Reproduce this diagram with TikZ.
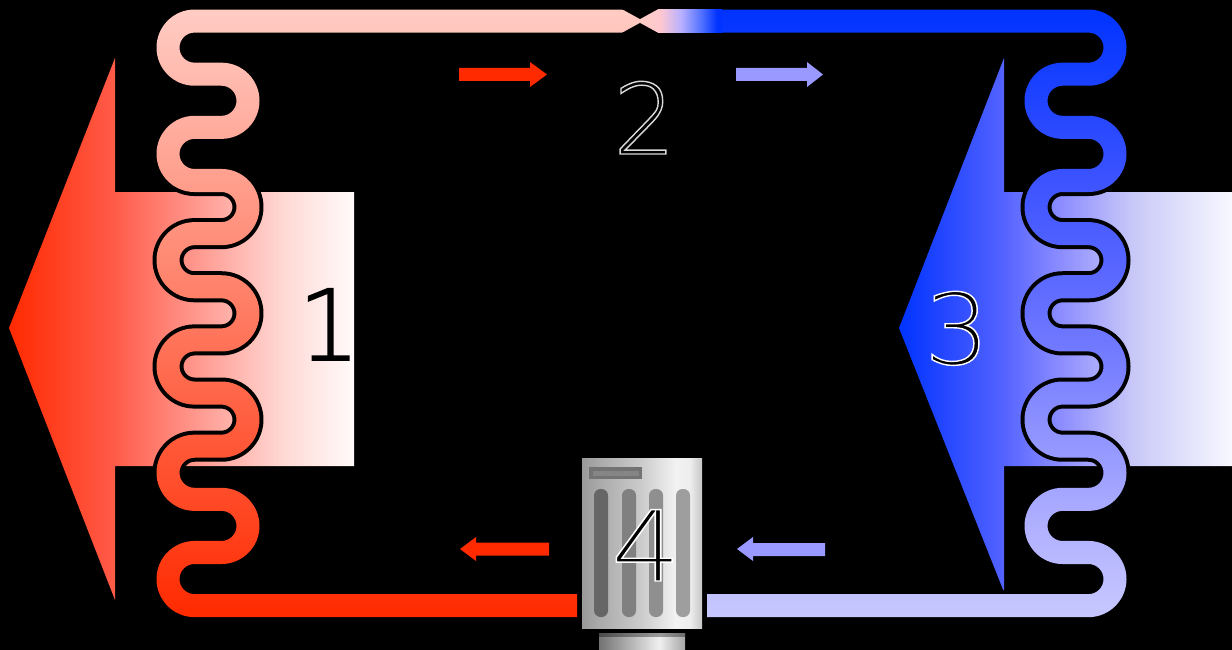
\documentclass[tikz,border=0pt]{standalone}
\usepackage{fontspec}
\newfontfamily\digitfont{DejaVu Sans ExtraLight}
\definecolor{hotA}{HTML}{FF2A00}
\definecolor{hotB}{HTML}{FFCCC4}
\definecolor{coldA}{HTML}{0033FF}
\definecolor{coldB}{HTML}{C8C8FF}
\definecolor{coldArrow}{HTML}{9999FF}
\definecolor{hotM}{HTML}{FF5A48}
\definecolor{hotN}{HTML}{FF9A90}
\definecolor{hotO}{HTML}{FFDAD6}
\definecolor{hotP}{HTML}{FFFAFA}
\definecolor{coldM}{HTML}{5060FF}
\definecolor{coldN}{HTML}{9090FF}
\definecolor{coldO}{HTML}{C8C8F8}
\definecolor{coldP}{HTML}{F8F8FF}
\definecolor{tubeM}{HTML}{4055FF}
\definecolor{tubeN}{HTML}{7078FF}
\definecolor{tubeO}{HTML}{B0B0FF}
\definecolor{valveM}{HTML}{FFC8D0}
\definecolor{valveN}{HTML}{B8B0FF}
\definecolor{valveO}{HTML}{5070FF}
\pgfdeclarehorizontalshading{hotArrowSh}{100bp}{color(0bp)=(hotA); color(25bp)=(hotA); color(40bp)=(hotM); color(52.5bp)=(hotN); color(65bp)=(hotO); color(75bp)=(hotP); color(100bp)=(hotP)}
\pgfdeclarehorizontalshading{coldArrowSh}{100bp}{color(0bp)=(coldA); color(25bp)=(coldA); color(40bp)=(coldM); color(50bp)=(coldN); color(60bp)=(coldO); color(75bp)=(coldP); color(100bp)=(coldP)}
\pgfdeclareverticalshading{coldTubeSh}{100bp}{color(0bp)=(coldB); color(25bp)=(coldB); color(32.5bp)=(tubeO); color(47.5bp)=(tubeN); color(60bp)=(tubeM); color(75bp)=(coldA); color(100bp)=(coldA)}
\pgfdeclarehorizontalshading{thrSh}{100bp}{color(0bp)=(hotB); color(25bp)=(hotB); color(37.5bp)=(valveM); color(50bp)=(valveN); color(62.5bp)=(valveO); color(72bp)=(coldA); color(100bp)=(coldA)}
\pgfdeclarehorizontalshading{bodySh}{100bp}{color(0bp)=(black!40); color(25bp)=(black!40); color(32.5bp)=(black!33); color(50bp)=(black!20); color(64bp)=(black!5); color(70bp)=(black!7); color(75bp)=(black!22); color(100bp)=(black!22)}
\pgfdeclarehorizontalshading{baseSh}{100bp}{color(0bp)=(black!55); color(25bp)=(black!55); color(60bp)=(black!6); color(75bp)=(black!35); color(100bp)=(black!35)}
\newcommand\RO{arc[start angle=-90,end angle=90,radius=38]}
\newcommand\RI{arc[start angle=-90,end angle=90,radius=15]}
\newcommand\LO{arc[start angle=-90,end angle=-270,radius=38]}
\newcommand\LI{arc[start angle=-90,end angle=-270,radius=15]}
\newcommand\ROb{arc[start angle=90,end angle=-90,radius=38]}
\newcommand\RIb{arc[start angle=90,end angle=-90,radius=15]}
\newcommand\LOb{arc[start angle=90,end angle=270,radius=38]}
\newcommand\LIb{arc[start angle=90,end angle=270,radius=15]}
\newcommand\hotTube{(640,9.5) -- (194.5,9.5) \LO
 -- (221.5,85.5) \RI -- (194.5,115.5) \LO
 -- (221.5,191.5) \RI -- (194.5,221.5) \LO
 -- (221.5,297.5) \RI -- (194.5,327.5) \LO
 -- (221.5,403.5) \RI -- (194.5,433.5) \LO
 -- (221.5,509.5) \RI -- (194.5,539.5) \LO
 -- (577,615.5) -- (577,592.5) -- (194.5,592.5) \LIb
 -- (221.5,562.5) \ROb -- (194.5,486.5) \LIb
 -- (221.5,456.5) \ROb -- (194.5,380.5) \LIb
 -- (221.5,350.5) \ROb -- (194.5,274.5) \LIb
 -- (221.5,244.5) \ROb -- (194.5,168.5) \LIb
 -- (221.5,138.5) \ROb -- (194.5,62.5) \LIb
 -- (640,32.5) -- cycle}
\newcommand\coldTube{(640,9.5) -- (1088.5,9.5) \RO
 -- (1062.5,85.5) \LI -- (1088.5,115.5) \RO
 -- (1062.5,191.5) \LI -- (1088.5,221.5) \RO
 -- (1062.5,297.5) \LI -- (1088.5,327.5) \RO
 -- (1062.5,403.5) \LI -- (1088.5,433.5) \RO
 -- (1062.5,509.5) \LI -- (1088.5,539.5) \RO
 -- (707,615.5) -- (707,592.5) -- (1088.5,592.5) \RIb
 -- (1062.5,562.5) \LOb -- (1088.5,486.5) \RIb
 -- (1062.5,456.5) \LOb -- (1088.5,380.5) \RIb
 -- (1062.5,350.5) \LOb -- (1088.5,274.5) \RIb
 -- (1062.5,244.5) \LOb -- (1088.5,168.5) \RIb
 -- (1062.5,138.5) \LOb -- (1088.5,62.5) \RIb
 -- (640,32.5) -- cycle}
\newcommand\strokedDigit[3]{\special{pdf:code 2 Tr #2 w #1 RG 0 0 0 rg}#3\special{pdf:code 0 Tr}}
\tikzset{
  digit/.style={inner sep=0pt,anchor=base,text=black,font=\digitfont\fontsize{98}{98}\selectfont},
  slot/.style={rounded corners=6.5pt},
  ring/.style={draw=black,line width=8pt,line join=round}
}
\begin{document}
\begin{tikzpicture}[x=1pt,y=-1pt]
\useasboundingbox (0,0) rectangle (1232,650);
\clip (0,0) rectangle (1232,650);
\fill[black] (0,0) rectangle (1232,650);
% big arrows
\shade[shading=hotArrowSh] (9,328) -- (115,58) -- (115,192) -- (354,192) -- (354,466) -- (115,466) -- (115,600) -- cycle;
\shade[shading=coldArrowSh] (899,328) -- (1004,58) -- (1004,192) -- (1232,192) -- (1232,466) -- (1004,466) -- (1004,592) -- cycle;
% tubes
\begin{scope}[yscale=1.0027]
\draw[ring] \hotTube;
\draw[ring] \coldTube;
\shade[top color=hotB,bottom color=hotA] \hotTube;
\shade[shading=coldTubeSh] \coldTube;
\end{scope}
% expansion valve
\shade[shading=thrSh] (640,9.5) rectangle (722,32.6);
\fill[black] (620,8) -- (640,19) -- (660,8) -- cycle;
\fill[black] (620,34) -- (640,23) -- (660,34) -- cycle;
% small arrows
\fill[hotA] (459,68) -- (530,68) -- (530,62) -- (547,74.5) -- (530,87) -- (530,81) -- (459,81) -- cycle;
\fill[coldArrow] (736,68) -- (807,68) -- (807,62) -- (823,74.5) -- (807,87) -- (807,81) -- (736,81) -- cycle;
\fill[hotA] (549,542.5) -- (476,542.5) -- (476,537) -- (460,549) -- (476,561) -- (476,555.5) -- (549,555.5) -- cycle;
\fill[coldArrow] (825,543) -- (753,543) -- (753,537) -- (737,549) -- (753,561) -- (753,556) -- (825,556) -- cycle;
% compressor
\shade[shading=bodySh] (582,458) rectangle (702,628);
\shade[shading=baseSh] (599,633) rectangle (685,650);
\fill[black,opacity=.35] (599,633) rectangle (685,637);
\fill[black!55] (589,467) rectangle (642,479);
\fill[black!48] (593,471) rectangle (639,476);
\fill[black!60,slot] (594,489) rectangle (608,617);
\fill[black!50,slot] (622,489) rectangle (636,617);
\fill[black!44,slot] (649,489) rectangle (663,617);
\fill[black!38,slot] (676,489) rectangle (690,617);
% labels
\node[digit] (n1) at (329,360) {\strokedDigit{0 0 0}{1.5}{1}};
\node[digit] (n2) at (644.5,154) {\strokedDigit{.85 .85 .85}{1.4}{2}};
\node[digit,xscale=1.05,transform shape] (n3) at (957,364) {\strokedDigit{1 1 1}{1.4}{3}};
\node[digit,xscale=1.12,transform shape] (n4) at (646,581) {\strokedDigit{1 1 1}{1.4}{4}};
\end{tikzpicture}
\end{document}
